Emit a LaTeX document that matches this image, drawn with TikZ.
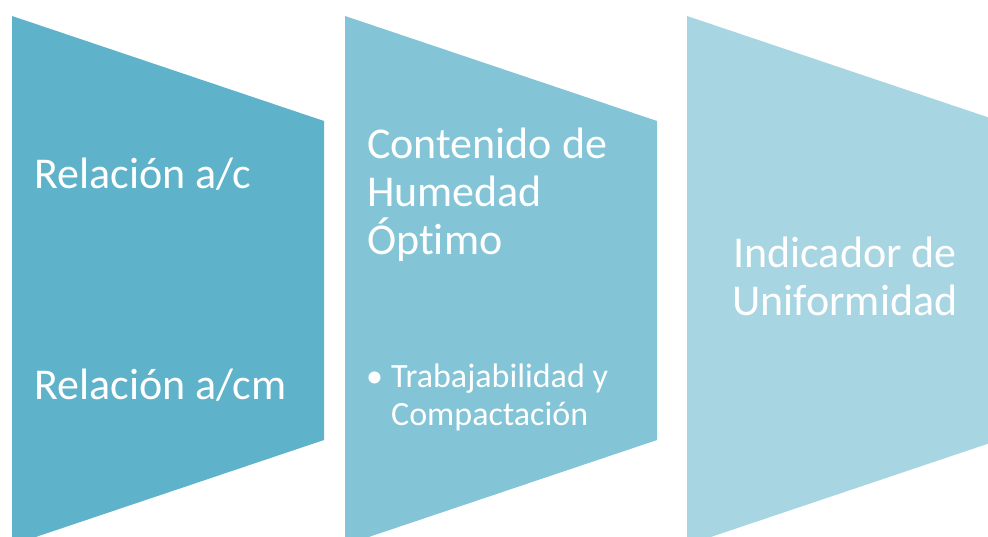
\documentclass[tikz,border=0pt]{standalone}
\usepackage{fontspec}
\setmainfont{Carlito}[Ligatures=NoCommon]
\usepackage{tikz}
\usetikzlibrary{calc}
\definecolor{azul}{RGB}{94,178,202}
\definecolor{celeste}{RGB}{131,196,214}
\definecolor{claro}{RGB}{167,213,226}
\tikzset{
  rotulo/.style={text=white, font=\fontsize{44}{48}\selectfont, inner sep=0pt},
  vineta/.style={text=white, font=\fontsize{34}{38}\selectfont, inner sep=0pt}
}
\newcommand{\panel}[2]{\fill[#2] (#1,16) -- (#1+312,121) -- (#1+312,440) -- (#1,545) -- cycle;}

\begin{document}
\begin{tikzpicture}[x=1pt, y=-1pt]
  \useasboundingbox (0,0) rectangle (988,537);
  \begin{scope}
    \clip (0,0) rectangle (988,537);
    \panel{12}{azul}
    \panel{345}{celeste}
    \panel{687}{claro}
  \end{scope}
  \node[rotulo, anchor=base west] (ac) at (34,189) {Relación a/c};
  \node[rotulo, anchor=base west] (acm) at (34,399) {Relación a/cm};
  \node[rotulo, anchor=base west, align=left] (humedad) at (367,255) {Contenido de\\Humedad\\Óptimo};
  \node[vineta, anchor=base west] (punto) at (366,387) {•};
  \node[vineta, anchor=base west, align=left] (trabajo) at (391,425) {Trabajabilidad y\\Compactación};
  \node[rotulo, anchor=base, align=center] (uniforme) at (845,316) {Indicador de\\Uniformidad};
\end{tikzpicture}
\end{document}
